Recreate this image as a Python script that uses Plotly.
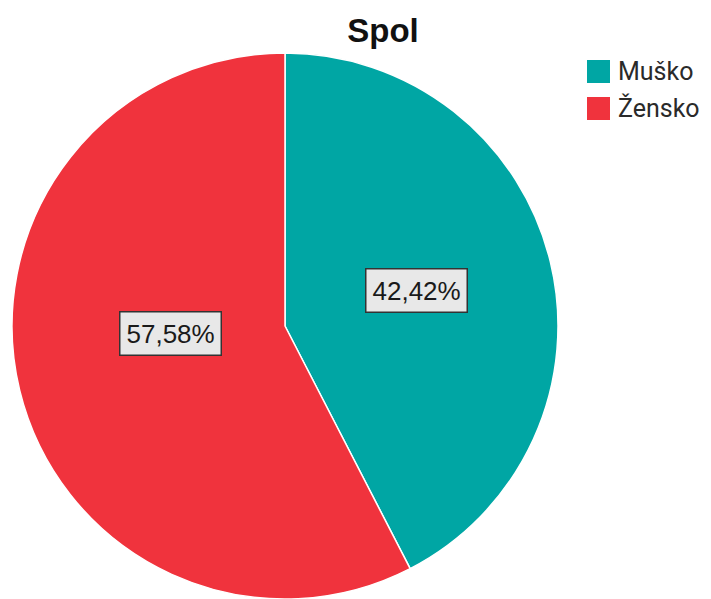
import plotly.graph_objects as go

categories = ["Muško", "Žensko"]
values = [42.42, 57.58]
label_texts = ["42,42%", "57,58%"]
colors = ["#00A6A4", "#F0333D"]
title_text = "Spol"

W, H = 711, 599

fig = go.Figure()
fig.add_trace(go.Pie(
    labels=categories,
    values=values,
    sort=False,
    direction="clockwise",
    rotation=0,
    textinfo="none",
    hoverinfo="label+percent",
    showlegend=False,
    marker=dict(colors=colors, line=dict(color="white", width=1.5)),
    domain=dict(x=[10/W, 560/W], y=[0.0, 546/H]),
))

# label boxes (positions in paper coordinates)
label_pos = [(416/W, 1 - 290/H), (170/W, 1 - 333/H)]
for (lx, ly), txt in zip(label_pos, label_texts):
    fig.add_annotation(
        x=lx, y=ly, xref="paper", yref="paper",
        text=txt, showarrow=False,
        font=dict(family="Liberation Sans, Arial, sans-serif", size=26, color="#1a1a1a"),
        bgcolor="#e8e8e8", bordercolor="#333333", borderwidth=1.5, borderpad=6,
        xanchor="center", yanchor="middle",
    )

# legend (custom, for large swatches)
leg_x0, leg_y0, sw, step = 587, 60, 23, 37
for i, (cat, col) in enumerate(zip(categories, colors)):
    top = leg_y0 + i * step
    fig.add_shape(type="rect", xref="paper", yref="paper",
                  x0=leg_x0/W, x1=(leg_x0 + sw)/W,
                  y0=1 - (top + sw)/H, y1=1 - top/H,
                  fillcolor=col, line=dict(width=0))
    fig.add_annotation(x=616/W, y=1 - (top + sw/2)/H, xref="paper", yref="paper",
                       text=cat, showarrow=False, xanchor="left", yanchor="middle",
                       font=dict(family="Roboto, DejaVu Sans, sans-serif", size=25, color="#2a2a2a"))

fig.update_layout(
    width=W, height=H,
    margin=dict(l=0, r=0, t=0, b=0),
    paper_bgcolor="white", plot_bgcolor="white",
    title=dict(text="<b>" + title_text + "</b>", x=383/W, xanchor="center",
               y=1 - 30/H, yanchor="middle",
               font=dict(family="Liberation Sans, Arial, sans-serif", size=33, color="#111111")),
    showlegend=False,
)

fig.write_html("out.html", config={"displayModeBar": False},
               post_script="document.body.style.margin='0';")
